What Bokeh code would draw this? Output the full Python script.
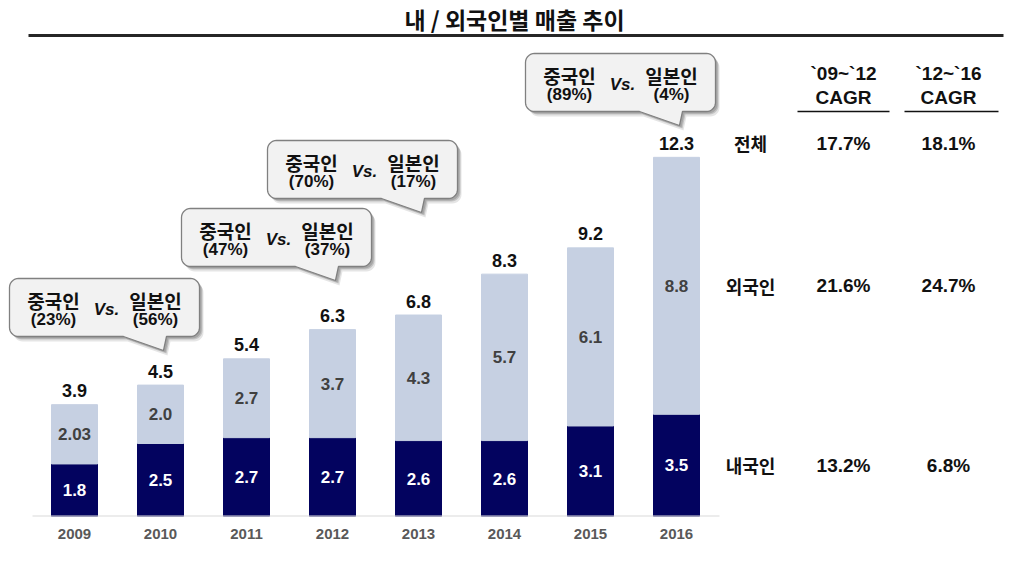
import math
from bokeh.plotting import figure
from bokeh.models import ColumnDataSource, FixedTicker, Range1d
from bokeh.core.properties import value
from bokeh.embed import file_html
from bokeh.resources import INLINE

# ---------------- data ----------------
years = ["2009", "2010", "2011", "2012", "2013", "2014", "2015", "2016"]
domestic = [1.8, 2.5, 2.7, 2.7, 2.6, 2.6, 3.1, 3.5]
foreign = [2.03, 2.0, 2.7, 3.7, 4.3, 5.7, 6.1, 8.8]
total = [3.9, 4.5, 5.4, 6.3, 6.8, 8.3, 9.2, 12.3]
foreign_text = ["2.03", "2.0", "2.7", "3.7", "4.3", "5.7", "6.1", "8.8"]

callout_bar = [1, 3, 4, 7]
callout_china = ["(23%)", "(47%)", "(70%)", "(89%)"]
callout_japan = ["(56%)", "(37%)", "(17%)", "(4%)"]

table_rows = ["전체", "외국인", "내국인"]
table_headers = ["`09~`12", "`12~`16"]
cagr_0912 = ["17.7%", "21.6%", "13.2%"]
cagr_1216 = ["18.1%", "24.7%", "6.8%"]

title_text = "내 / 외국인별 매출 추이"

# ---------------- layout ----------------
W, H = 1015, 556
BOTTOM = 40
PXX = 86.0      # px per bar slot
PXY = 29.2      # px per unit
X0 = 74.0       # x of first bar centre
BASE = 516.0    # y of baseline


def dx(px):
    return (px - X0) / PXX


def dy(py):
    return (BASE - py) / PXY


xs = dx(0)
xe = xs + W / PXX
ye = (H - BOTTOM) / PXY

KR = value("Noto Sans CJK KR")
AR = value("Liberation Sans")
NAVY = "#03035f"
LIGHT = "#c6d0e2"

p = figure(width=W, height=H, output_backend="svg", toolbar_location=None,
           x_range=Range1d(xs, xe), y_range=Range1d(0, ye),
           y_axis_location=None, min_border_left=0, min_border_right=0,
           min_border_top=0, min_border_bottom=BOTTOM,
           outline_line_color=None, background_fill_color="white")
p.xgrid.visible = False
p.ygrid.visible = False

idx = list(range(len(years)))
stack_top = [d + f for d, f in zip(domestic, foreign)]
src = ColumnDataSource(dict(
    x=idx, dom=domestic, top=stack_top, total=[str(t) for t in total],
    dom_txt=[str(d) for d in domestic], for_txt=foreign_text,
    dom_mid=[d / 2 for d in domestic],
    for_mid=[d + f / 2 for d, f in zip(domestic, foreign)],
))

BW = 46 / PXX
p.vbar(x="x", bottom=0, top="dom", width=BW, color=NAVY, source=src)
p.vbar(x="x", bottom="dom", top="top", width=BW, color=LIGHT, source=src)

# baseline
p.segment(x0=[dx(32)], y0=[0], x1=[dx(719)], y1=[0], line_color="#d9d9d9", line_width=2)

# labels
p.text(x="x", y="top", text="total", source=src, y_offset=-14,
       text_align="center", text_baseline="middle", text_font=AR,
       text_font_style="bold", text_font_size="18px", text_color="#111111")
p.text(x="x", y="for_mid", text="for_txt", source=src,
       text_align="center", text_baseline="middle", text_font=AR,
       text_font_style="bold", text_font_size="17px", text_color="#404040")
p.text(x="x", y="dom_mid", text="dom_txt", source=src,
       text_align="center", text_baseline="middle", text_font=AR,
       text_font_style="bold", text_font_size="17px", text_color="white")

# x axis with year labels
ax = p.xaxis[0]
ax.ticker = FixedTicker(ticks=idx)
ax.major_label_overrides = {i: y for i, y in zip(idx, years)}
ax.axis_line_color = None
ax.major_tick_line_color = None
ax.minor_tick_line_color = None
ax.major_label_standoff = 6
ax.major_label_text_font = "Liberation Sans"
ax.major_label_text_font_style = "bold"
ax.major_label_text_font_size = "15px"
ax.major_label_text_color = "#595959"

# title and rule
p.text(x=[dx(514)], y=[dy(18)], text=[title_text], text_align="center",
       text_baseline="middle", text_font=KR, text_font_style="bold",
       text_font_size="23px", text_color="#111111")
p.segment(x0=[dx(28)], y0=[dy(35)], x1=[dx(1003)], y1=[dy(35)],
          line_color="#262626", line_width=3)

# ---------------- callouts ----------------
callout_tip_py = [350, 280, 212, 125]


def bubble(tx, ty, ox=0.0, oy=0.0):
    left, right = tx - 154 + ox, tx + 36 + ox
    bottom = ty - 14 + oy
    top = bottom - 58
    r = 9
    pts = []

    def arc(cx, cy, a0, a1):
        for k in range(9):
            a = math.radians(a0 + (a1 - a0) * k / 8)
            pts.append((cx + r * math.cos(a), cy + r * math.sin(a)))

    arc(left + r, top + r, 180, 270)
    arc(right - r, top + r, 270, 360)
    arc(right - r, bottom - r, 0, 90)
    pts.append((tx + 3 + ox, bottom))
    pts.append((tx + ox, ty + oy))
    pts.append((tx - 40 + ox, bottom))
    arc(left + r, bottom - r, 90, 180)
    return [dx(a) for a, b in pts], [dy(b) for a, b in pts], left, top


for bi, cn, jp, tpy in zip(callout_bar, callout_china, callout_japan, callout_tip_py):
    tpx = X0 + PXX * bi + 3
    for (ox, oy, al) in [(4, 5, 0.10), (3, 3, 0.15), (2, 2, 0.15)]:
        sx, sy, _, _ = bubble(tpx, tpy, ox, oy)
        p.patch(sx, sy, fill_color="black", fill_alpha=al, line_color=None)
    bx, by, left, top = bubble(tpx, tpy)
    p.patch(bx, by, fill_color="#f2f2f2", line_color="#808080", line_width=1.3)
    p.text(x=[dx(left + 44), dx(left + 146)], y=[dy(top + 22)] * 2,
           text=["중국인", "일본인"], text_align="center", text_baseline="middle",
           text_font=KR, text_font_style="bold", text_font_size="19px",
           text_color="#111111")
    p.text(x=[dx(left + 44), dx(left + 146)], y=[dy(top + 41)] * 2,
           text=[cn, jp], text_align="center", text_baseline="middle",
           text_font=AR, text_font_style="bold", text_font_size="17px",
           text_color="#111111")
    p.text(x=[dx(left + 97)], y=[dy(top + 31)], text=["Vs."], text_align="center",
           text_baseline="middle", text_font=AR, text_font_style="bold italic",
           text_font_size="17px", text_color="#111111")

# ---------------- CAGR table ----------------
last = len(years) - 1
row_y = [stack_top[last], domestic[last] + foreign[last] / 2, domestic[last] / 2]
row_off = [-14, 0, 0]
col_x = [dx(843), dx(948)]
for lab, yv, off, v1, v2 in zip(table_rows, row_y, row_off, cagr_0912, cagr_1216):
    p.text(x=[dx(750)], y=[yv], y_offset=off, text=[lab], text_align="center",
           text_baseline="middle", text_font=KR, text_font_style="bold",
           text_font_size="18px", text_color="#111111")
    p.text(x=col_x, y=[yv, yv], y_offset=off, text=[v1, v2], text_align="center",
           text_baseline="middle", text_font=AR, text_font_style="bold",
           text_font_size="19px", text_color="#111111")

p.text(x=col_x, y=[dy(73)] * 2, text=table_headers, text_align="center",
       text_baseline="middle", text_font=AR, text_font_style="bold",
       text_font_size="19px", text_color="#111111")
p.text(x=col_x, y=[dy(97)] * 2, text=["CAGR", "CAGR"], text_align="center",
       text_baseline="middle", text_font=AR, text_font_style="bold",
       text_font_size="19px", text_color="#111111")
p.segment(x0=[dx(797), dx(904)], y0=[dy(111)] * 2, x1=[dx(889), dx(998)],
          y1=[dy(111)] * 2, line_color="#111111", line_width=1.5)

open("out.html", "w").write(file_html(p, INLINE))
